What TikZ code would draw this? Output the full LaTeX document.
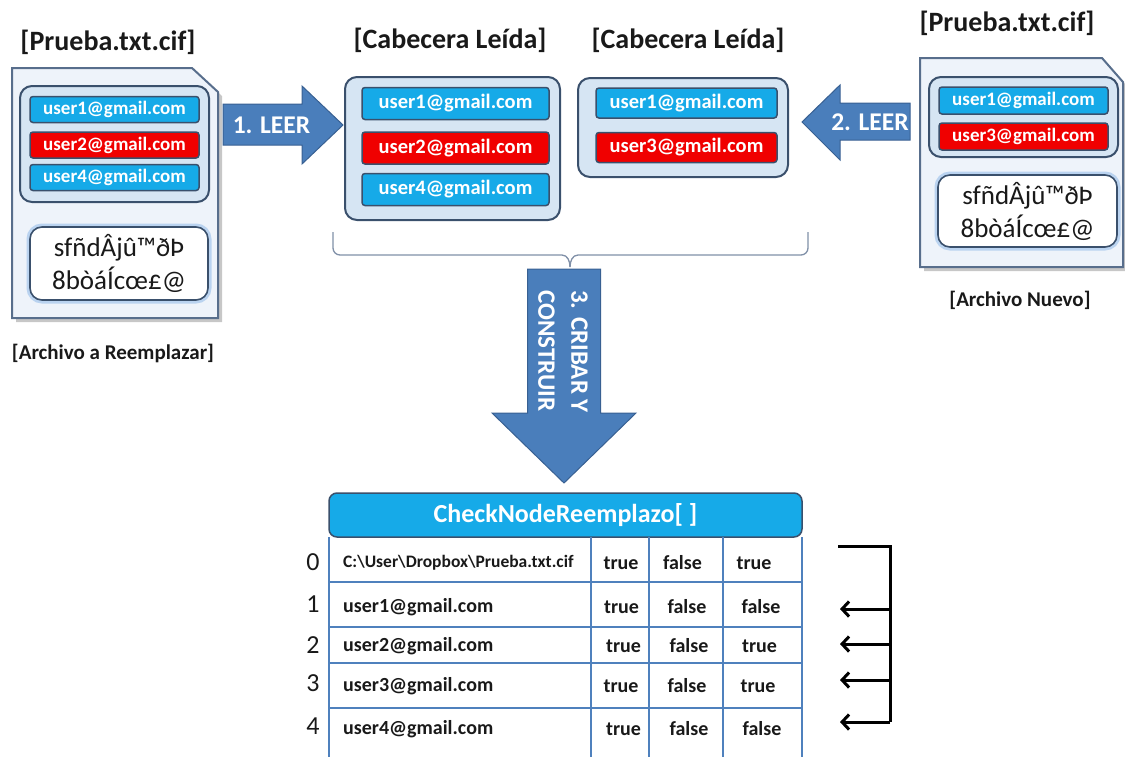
\documentclass[tikz,border=0pt]{standalone}
\usepackage{fontspec}
\setmainfont{Carlito}
\usetikzlibrary{arrows.meta,calc}
\definecolor{cy}{RGB}{22,170,232}
\definecolor{rd}{RGB}{240,0,0}
\definecolor{edge}{RGB}{58,80,108}
\definecolor{hdrfill}{RGB}{214,229,243}
\definecolor{docfill}{RGB}{238,243,250}
\definecolor{docedge}{RGB}{88,110,140}
\definecolor{ab}{RGB}{74,126,187}
\definecolor{abedge}{RGB}{56,96,146}
\definecolor{tl}{RGB}{79,129,189}
\definecolor{glow}{RGB}{165,198,236}
\definecolor{brc}{RGB}{128,144,168}
\definecolor{txt}{RGB}{25,25,25}
\newcommand\fsz[2]{\fontsize{#1}{#2}\selectfont}
\begin{document}
\begin{tikzpicture}[x=1pt,y=-1pt,
  email/.style={draw=edge, line width=1.5pt, rounded corners=3pt, text=white,
    font=\bfseries\fsz{19}{22}, inner sep=0pt},
  emailbig/.style={email, font=\bfseries\fsz{20.5}{24}},
  hdr/.style={draw=edge, line width=2pt, rounded corners=12pt, fill=hdrfill, inner sep=0pt},
  body/.style={draw=edge, line width=1.6pt, rounded corners=12pt, fill=white, inner sep=0pt,
    align=center, text=txt, font=\fsz{27}{33},
    preaction={draw=glow, line width=7pt, opacity=0.7}},
  doc/.style={fill=docfill, draw=docedge, line width=2pt, line join=miter},
  docshadow/.style={fill=black!22, draw=none},
  ttl/.style={font=\bfseries\fsz{28}{30}, text=txt, inner sep=0pt},
  captxt/.style={font=\bfseries\fsz{21}{23}, text=txt, inner sep=0pt},
  barrow/.style={fill=ab, draw=abedge, line width=1pt, line join=miter},
  alabel/.style={text=white, font=\bfseries\fsz{25.5}{27}, inner sep=0pt},
  tline/.style={draw=tl, line width=2pt},
  cell/.style={text=txt, font=\bfseries\fsz{20}{22}, inner sep=0pt},
  idx/.style={text=txt, font=\fsz{26}{28}, inner sep=0pt},
  conn/.style={draw=black, line width=3pt},
  brace/.style={draw=brc, line width=1.3pt}
]
\useasboundingbox (0,0) rectangle (1125,756);

% ---------- left document ----------
\path[docshadow] (16,72) -- (196,72) -- (222,96) -- (222,322) -- (16,322) -- cycle;
\path[doc] (12,68) -- (192,68) -- (218,92) -- (218,318) -- (12,318) -- cycle;
\node[hdr, minimum width=189pt, minimum height=116pt] (lh) at (114.5,144) {};
\node[email, fill=cy, minimum width=169pt, minimum height=26pt] (l1) at (114.5,109.5) {user1@gmail.com};
\node[email, fill=rd, minimum width=169pt, minimum height=26pt] (l2) at (114.5,145) {user2@gmail.com};
\node[email, fill=cy, minimum width=169pt, minimum height=26pt] (l4) at (114.5,177.5) {user4@gmail.com};
\node[body, minimum width=178pt, minimum height=73pt] (lb) at (119,263.5) {sfñdÂjû™ðÞ\\8bòáÍcœ£@};
\node[ttl] (lt) at (108,42) {[Prueba.txt.cif]};
\node[captxt] (lc) at (113,353) {[Archivo a Reemplazar]};

% ---------- arrow 1 ----------
\path[barrow] (223,104) -- (302,104) -- (302,86) -- (343,125) -- (302,164) -- (302,145) -- (223,145) -- cycle;
\node[alabel] (a1) at (271.5,125) {1. LEER};

% ---------- middle box 1 ----------
\node[hdr, minimum width=215pt, minimum height=143pt] (m1) at (452.5,148.5) {};
\node[emailbig, fill=cy, minimum width=187pt, minimum height=32pt] (m11) at (455.5,103.5) {user1@gmail.com};
\node[emailbig, fill=rd, minimum width=187pt, minimum height=32pt] (m12) at (455.5,148) {user2@gmail.com};
\node[emailbig, fill=cy, minimum width=187pt, minimum height=32pt] (m14) at (455.5,189.5) {user4@gmail.com};
\node[ttl] (mt1) at (450,40) {[Cabecera Leída]};

% ---------- middle box 2 ----------
\node[hdr, minimum width=210pt, minimum height=99pt] (m2) at (683,127.5) {};
\node[emailbig, fill=cy, minimum width=181pt, minimum height=30pt] (m21) at (686.5,103) {user1@gmail.com};
\node[emailbig, fill=rd, minimum width=181pt, minimum height=30pt] (m23) at (686.5,147.5) {user3@gmail.com};
\node[ttl] (mt2) at (688,40) {[Cabecera Leída]};

% ---------- arrow 2 ----------
\path[barrow] (910,103) -- (840,103) -- (840,85) -- (802,122) -- (840,160) -- (840,140) -- (910,140) -- cycle;
\node[alabel] (a2) at (870,122) {2. LEER};

% ---------- right document ----------
\path[docshadow] (924,62) -- (1106,62) -- (1125,84) -- (1125,271) -- (924,271) -- cycle;
\path[doc] (920,58) -- (1102,58) -- (1123,82) -- (1123,267) -- (920,267) -- cycle;
\node[hdr, minimum width=189pt, minimum height=80pt] (rh) at (1023.5,117) {};
\node[email, fill=cy, minimum width=169pt, minimum height=27pt] (r1) at (1023.5,100.5) {user1@gmail.com};
\node[email, fill=rd, minimum width=169pt, minimum height=27pt] (r3) at (1023.5,136.5) {user3@gmail.com};
\node[body, minimum width=179pt, minimum height=72pt] (rb) at (1027.5,211) {sfñdÂjû™ðÞ\\8bòáÍcœ£@};
\node[ttl] (rt) at (1007,23) {[Prueba.txt.cif]};
\node[captxt] (rc) at (1020,300) {[Archivo Nuevo]};

% ---------- brace ----------
\coordinate (bl) at (333,232);
\coordinate (br) at (808,232);
\coordinate (bc) at (570,267);
\draw[brace] (bl) -- (333,248) to[out=-90,in=180] (340,255) -- (562,255) to[out=0,in=90] (bc);
\draw[brace] (br) -- (808,248) to[out=-90,in=0] (801,255) -- (578,255) to[out=180,in=90] (bc);

% ---------- arrow 3 ----------
\path[barrow] (527.5,269) -- (600.5,269) -- (600.5,413) -- (636,413) -- (564,483) -- (492,413) -- (527.5,413) -- cycle;
\node[alabel, rotate=-90, anchor=west, align=left, font=\bfseries\fsz{25}{33}] (a3) at (563,290) {3. CRIBAR Y\\CONSTRUIR};

% ---------- table ----------
\node[draw=edge, line width=1.5pt, fill=cy, rounded corners=8pt, minimum width=473pt, minimum height=44pt,
  text=white, font=\bfseries\fsz{26}{28}, inner sep=0pt] (th) at (565.5,515) {CheckNodeReemplazo[ ]};
\foreach \x in {329,591,649,723,802} \draw[tline] (\x,537) -- (\x,757);
\foreach \y in {582,627,663,708} \draw[tline] (329,\y) -- (802,\y);

\node[idx] (i0) at (313,562) {0};
\node[idx] (i1) at (313,604) {1};
\node[idx] (i2) at (313,645) {2};
\node[idx] (i3) at (313,683) {3};
\node[idx] (i4) at (313,726) {4};

\node[cell, anchor=west, font=\bfseries\fsz{17.5}{19}] (p0) at (343,563) {C:\textbackslash User\textbackslash Dropbox\textbackslash Prueba.txt.cif};
\node[cell, anchor=west] (u1) at (343,607) {user1@gmail.com};
\node[cell, anchor=west] (u2) at (343,646) {user2@gmail.com};
\node[cell, anchor=west] (u3) at (343,686) {user3@gmail.com};
\node[cell, anchor=west] (u4) at (343,729) {user4@gmail.com};

\node[cell] (c01) at (621,563) {true};
\node[cell] (c02) at (682.5,563) {false};
\node[cell] (c03) at (754,563) {true};
\node[cell] (c11) at (621.5,607) {true};
\node[cell] (c12) at (687,607) {false};
\node[cell] (c13) at (761,607) {false};
\node[cell] (c21) at (623.5,646) {true};
\node[cell] (c22) at (689,646) {false};
\node[cell] (c23) at (759.5,646) {true};
\node[cell] (c31) at (621,686) {true};
\node[cell] (c32) at (687,686) {false};
\node[cell] (c33) at (758,686) {true};
\node[cell] (c41) at (623.5,729) {true};
\node[cell] (c42) at (689,729) {false};
\node[cell] (c43) at (762,729) {false};

% ---------- connectors ----------
\coordinate (k0) at (838,546);
\coordinate (kc) at (890,546);
\coordinate (kb) at (890,722);
\coordinate (t1) at (840,609);
\coordinate (t2) at (840,644);
\coordinate (t3) at (840,680);
\coordinate (t4) at (840,722);
\draw[conn] (k0) -- (kc) -- (kb);
\foreach \t in {t1,t2,t3,t4}
  \draw[conn, -{Straight Barb[length=7pt,width=15pt]}] (\t -| kc) -- (\t);
\end{tikzpicture}
\end{document}
